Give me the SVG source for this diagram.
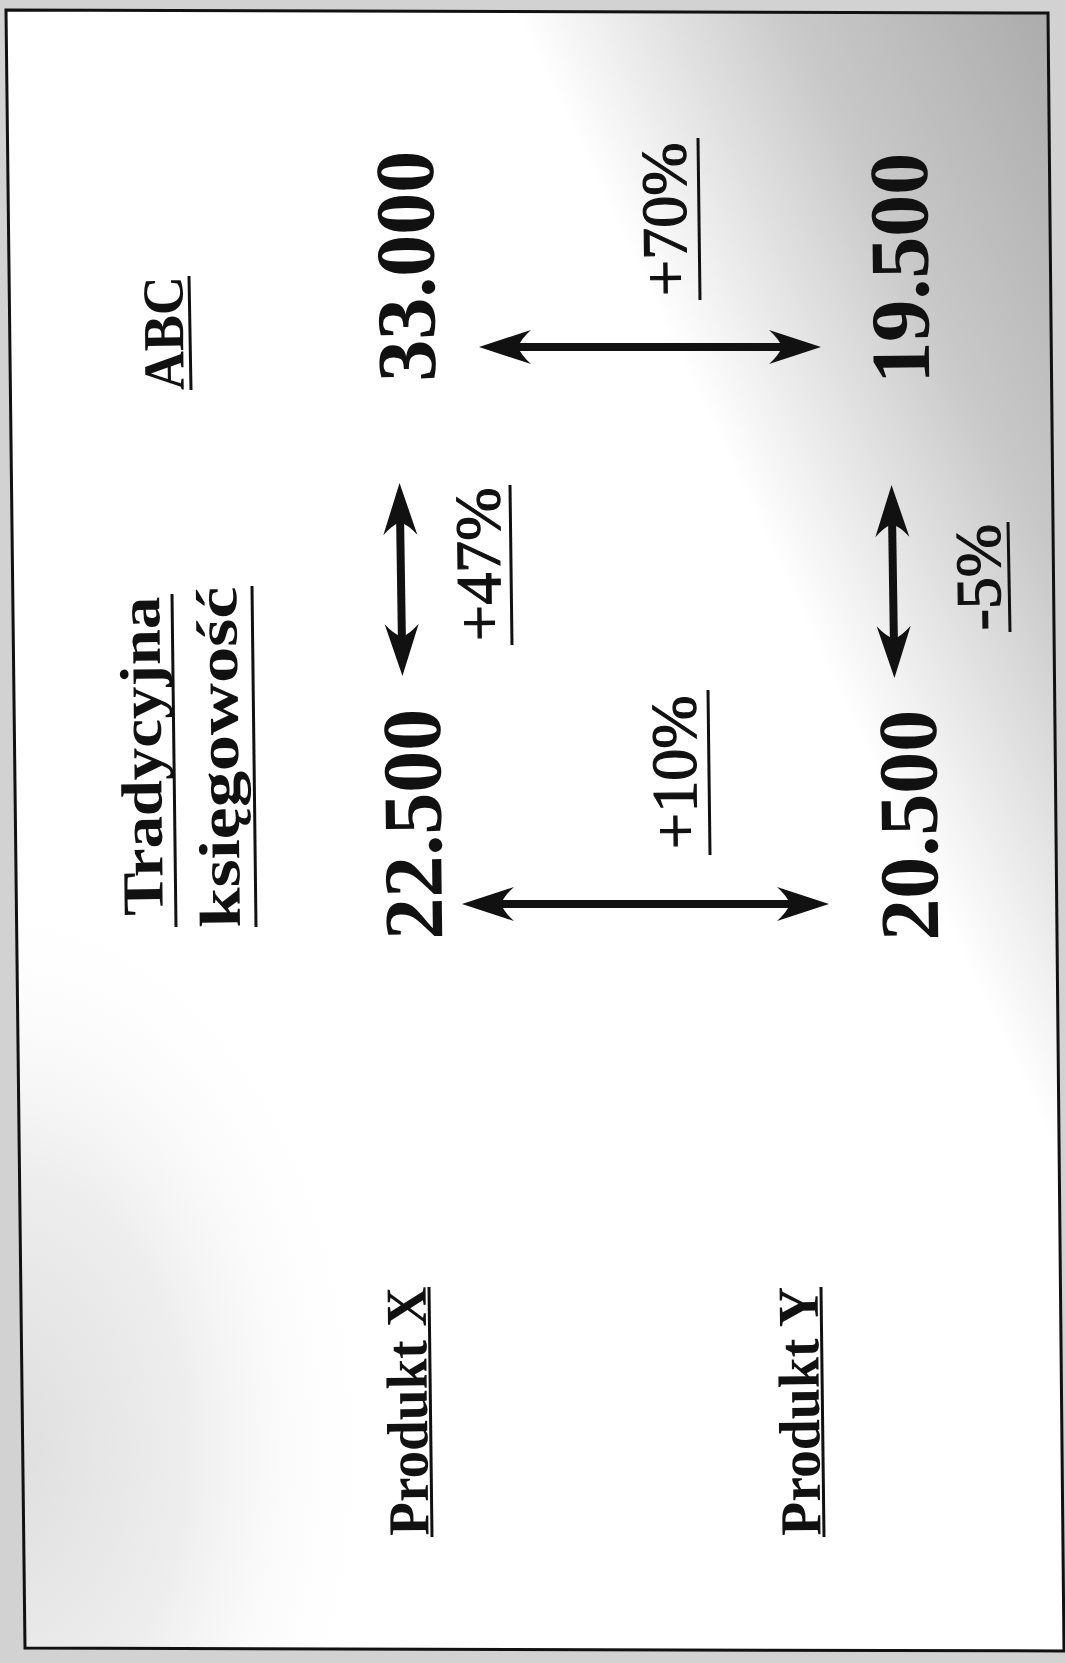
<svg xmlns="http://www.w3.org/2000/svg" width="1065" height="1663" viewBox="0 0 1065 1663">
<style>
.big{font-family:"Liberation Serif",serif;font-weight:bold;font-size:84px;fill:#111;text-anchor:middle}
.lbl{font-family:"Liberation Serif",serif;font-weight:bold;font-size:58px;fill:#111;text-anchor:middle}
.pct{font-family:"Liberation Serif",serif;font-size:64px;fill:#111;stroke:#111;stroke-width:1.2;text-anchor:middle}
.ul{stroke:#111;stroke-width:3;fill:none}
.arr{stroke:#111;stroke-width:8;fill:none;marker-start:url(#head);marker-end:url(#head)}
</style>
<defs>
<linearGradient id="shade" gradientUnits="userSpaceOnUse" x1="510" y1="0" x2="964" y2="-215">
<stop offset="0" stop-color="#ffffff"/>
<stop offset="0.2" stop-color="#e9e9e9"/>
<stop offset="0.5" stop-color="#c8c8c8"/>
<stop offset="1" stop-color="#a9a9a9"/>
</linearGradient>
<radialGradient id="lowleft" gradientUnits="userSpaceOnUse" cx="0" cy="1450" r="380" gradientTransform="translate(0 1450) scale(1 1.5) translate(0 -1450)">
<stop offset="0" stop-color="#dedede"/>
<stop offset="0.5" stop-color="#eeeeee"/>
<stop offset="1" stop-color="#ffffff" stop-opacity="0"/>
</radialGradient>
<marker id="head" markerUnits="userSpaceOnUse" viewBox="-54 -18 56 36" markerWidth="56" markerHeight="36" refX="-30" refY="0" orient="auto-start-reverse">
<path d="M0,0 L-52,-17 Q-42,-8 -39,0 Q-42,8 -52,17 Z" fill="#111"/>
</marker>
</defs>
<rect x="0" y="0" width="1065" height="1663" fill="#d2d2d2"/>
<polygon points="6,10 1048,13 1064,1651 25,1648" fill="#ffffff"/>
<polygon points="6,10 1048,13 1064,1651 25,1648" fill="url(#shade)"/>
<polygon points="6,10 1048,13 1064,1651 25,1648" fill="url(#lowleft)"/>
<polygon points="6,10 1048,13 1064,1651 25,1648" fill="none" stroke="#111" stroke-width="3"/>

<g id="connectors">
<line class="arr" x1="509" y1="347" x2="791" y2="347"/>
<line class="arr" x1="400" y1="513" x2="402" y2="646"/>
<line class="arr" x1="492" y1="904" x2="799" y2="904"/>
<line class="arr" x1="892" y1="515" x2="894" y2="648"/>
</g>

<g id="abc-header">
<text class="lbl" font-size="56" textLength="114" lengthAdjust="spacingAndGlyphs" transform="translate(183,333) rotate(-90.66)">ABC</text>
<line class="ul" x1="191" y1="390" x2="189" y2="276"/>
</g>
<g id="traditional-header">
<text class="lbl" textLength="319" lengthAdjust="spacingAndGlyphs" transform="translate(161,756) rotate(-90.66)">Tradycyjna</text>
<line class="ul" x1="176" y1="927" x2="172" y2="594"/>
<text class="lbl" textLength="341" lengthAdjust="spacingAndGlyphs" transform="translate(238,757) rotate(-90.66)">księgowość</text>
<line class="ul" x1="256" y1="927" x2="252" y2="586"/>
</g>
<g id="x-abc"><text class="big" transform="translate(434,266) rotate(-90.66)">33.000</text></g>
<g id="x-trad"><text class="big" transform="translate(441,824) rotate(-90.66)">22.500</text></g>
<g id="y-abc"><text class="big" transform="translate(928,268) rotate(-90.66)">19.500</text></g>
<g id="y-trad"><text class="big" transform="translate(937,825) rotate(-90.66)">20.500</text></g>

<g id="diff-abc">
<text class="pct" transform="translate(686,219) rotate(-90.66)">+70%</text>
<line class="ul" x1="700" y1="300" x2="698" y2="138"/>
</g>
<g id="diff-x">
<text class="pct" transform="translate(500,564) rotate(-90.66)">+47%</text>
<line class="ul" x1="512" y1="645" x2="510" y2="485"/>
</g>
<g id="diff-trad">
<text class="pct" transform="translate(696,772) rotate(-90.66)">+10%</text>
<line class="ul" x1="710" y1="855" x2="708" y2="690"/>
</g>
<g id="diff-y">
<text class="pct" transform="translate(1000,577) rotate(-90.66)">-5%</text>
<line class="ul" x1="1010" y1="632" x2="1008" y2="522"/>
</g>

<g id="product-x">
<text class="lbl" font-size="60" textLength="249" lengthAdjust="spacingAndGlyphs" transform="translate(427,1411) rotate(-90.66)">Produkt X</text>
<line class="ul" x1="432" y1="1537" x2="429" y2="1287"/>
</g>
<g id="product-y">
<text class="lbl" font-size="60" textLength="249" lengthAdjust="spacingAndGlyphs" transform="translate(819,1411) rotate(-90.66)">Produkt Y</text>
<line class="ul" x1="824" y1="1537" x2="821" y2="1287"/>
</g>
</svg>
